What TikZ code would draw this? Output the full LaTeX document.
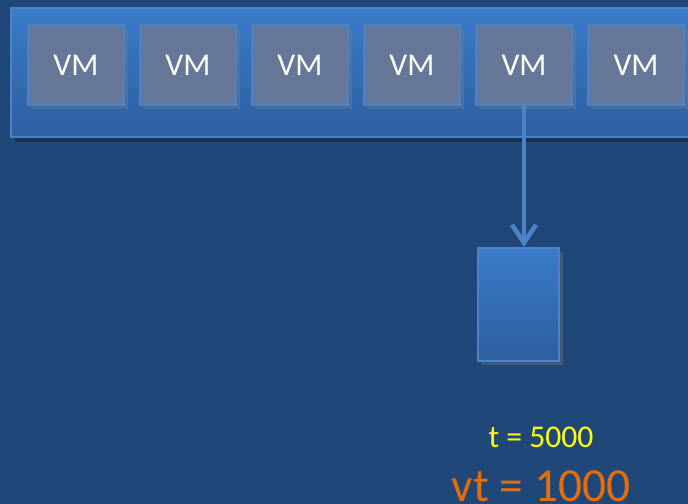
\documentclass[tikz,border=0pt]{standalone}
\usepackage{fontspec}
\setmainfont{Carlito}
\usetikzlibrary{shadows,arrows.meta}
\definecolor{nen}{HTML}{1F4878}
\definecolor{khungtren}{HTML}{3A7BC8}
\definecolor{khungduoi}{HTML}{2D5F9F}
\definecolor{vien}{HTML}{4D83C4}
\definecolor{maymao}{HTML}{65789A}
\definecolor{vangchu}{HTML}{FFFF00}
\definecolor{camchu}{HTML}{E46C0A}

\tikzset{
	vmbox/.style={draw=vien, line width=0.6pt, fill=maymao, minimum width=0.96cm, minimum height=0.80cm, inner sep=0pt, text=white, font=\fontsize{9}{10}\selectfont, drop shadow={opacity=0.35, shadow xshift=0.04cm, shadow yshift=-0.04cm}},
	hopbox/.style={draw=vien, line width=0.6pt, top color=khungtren, bottom color=khungduoi, inner sep=0pt}
}

\begin{document}
\begin{tikzpicture}[x=0.01cm, y=-0.01cm]
		\fill[nen] (0,0) rectangle (688,504);
		\useasboundingbox (0,0) rectangle (688,504);
		
		% thanh chua cac VM
		\fill[black, opacity=0.3] (15,12) rectangle (700,142);
		\shade[top color=khungtren, bottom color=khungduoi] (11,8) rectangle (700,137);
		\draw[vien, line width=0.6pt] (700,8) -- (11,8) -- (11,137) -- (700,137);
		
		\foreach \i in {1,...,6}
			\node[vmbox] (vm\i) at ({76+112*(\i-1)},65) {VM};
		
		% hang doi
		\node[hopbox, minimum width=0.81cm, minimum height=1.13cm, drop shadow={opacity=0.35, shadow xshift=0.04cm, shadow yshift=-0.04cm}] (hang) at (518.5,304.5) {};
		
		\draw[vien, line width=1.2pt, -{Straight Barb[length=1.8mm, width=2.4mm, line width=1.3pt]}] (vm5.south) -- (vm5.south |- hang.north);
		
		\node[text=vangchu, inner sep=0pt, font=\fontsize{9}{10}\selectfont] (thoigian) at (541,437) {t = 5000};
		\node[text=camchu, inner sep=0pt, font=\fontsize{13.5}{15}\selectfont] (aothoi) at (541,486) {vt = 1000};
	\end{tikzpicture}
\end{document}
